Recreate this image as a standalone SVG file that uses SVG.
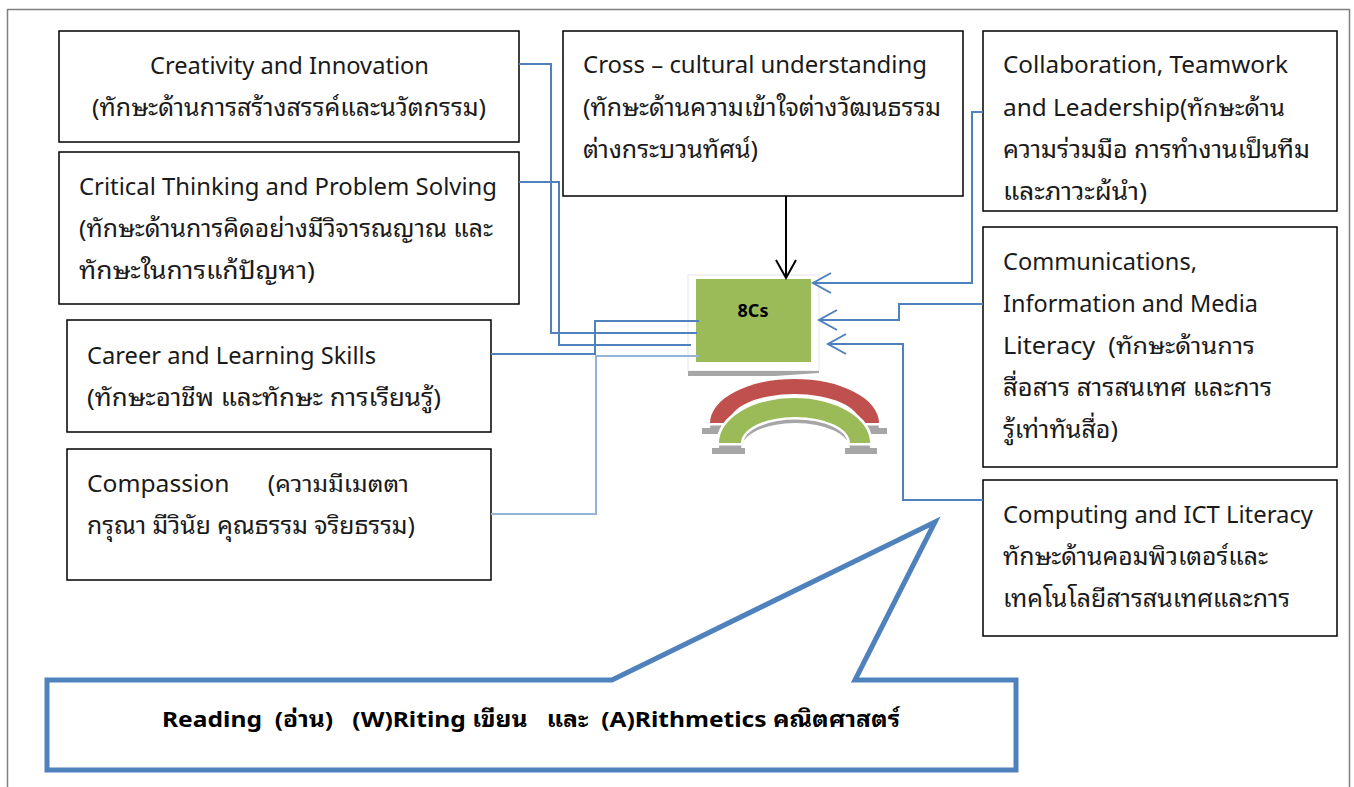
<svg xmlns="http://www.w3.org/2000/svg" width="1354" height="787" viewBox="0 0 1354 787">
<defs>
<style>
.box{fill:#fff;stroke:#000;stroke-width:1.5}
.t{font-family:"Noto Sans","Noto Sans Thai Looped","Noto Sans Thai","Leelawadee UI",sans-serif;font-size:23px;fill:#1a1a1a}
.th{font-size:24px}
.b{stroke:#4F81BD;stroke-width:2;fill:none}
.lb{stroke:#95B3D7;stroke-width:2;fill:none}
.bold{font-family:"Noto Sans","Noto Sans Thai Looped","Noto Sans Thai",sans-serif;font-weight:bold;fill:#000}
</style>
</defs>
<rect x="7.5" y="9.5" width="1342" height="820" fill="#fff" stroke="#7f7f7f" stroke-width="1.5"/>

<g id="creativity">
<rect class="box" x="59" y="31" width="460" height="111"/>
<text class="t" x="150" y="74" textLength="279" lengthAdjust="spacingAndGlyphs">Creativity and Innovation</text>
<text class="t th" x="92" y="116" textLength="394" lengthAdjust="spacingAndGlyphs">(ทักษะด้านการสร้างสรรค์และนวัตกรรม)</text>
</g>
<g id="critical">
<rect class="box" x="59" y="152" width="460" height="152"/>
<text class="t" x="79" y="195" textLength="418" lengthAdjust="spacingAndGlyphs">Critical Thinking and Problem Solving</text>
<text class="t th" x="79" y="237" textLength="414" lengthAdjust="spacingAndGlyphs">(ทักษะด้านการคิดอย่างมีวิจารณญาณ และ</text>
<text class="t th" x="79" y="279" textLength="236" lengthAdjust="spacingAndGlyphs">ทักษะในการแก้ปัญหา)</text>
</g>
<g id="cross">
<rect class="box" x="563" y="31" width="400" height="165"/>
<text class="t" x="583" y="73" textLength="344" lengthAdjust="spacingAndGlyphs">Cross – cultural understanding</text>
<text class="t th" x="583" y="116" textLength="358" lengthAdjust="spacingAndGlyphs">(ทักษะด้านความเข้าใจต่างวัฒนธรรม</text>
<text class="t th" x="583" y="158" textLength="175" lengthAdjust="spacingAndGlyphs">ต่างกระบวนทัศน์)</text>
</g>
<g id="collaboration">
<rect class="box" x="983" y="31" width="354" height="180"/>
<text class="t" x="1003" y="73" textLength="285" lengthAdjust="spacingAndGlyphs">Collaboration, Teamwork</text>
<text class="t" x="1003" y="116" textLength="282" lengthAdjust="spacingAndGlyphs">and Leadership(ทักษะด้าน</text>
<text class="t th" x="1003" y="158" textLength="307" lengthAdjust="spacingAndGlyphs">ความร่วมมือ การทำงานเป็นทีม</text>
<text class="t th" x="1003" y="200" textLength="144" lengthAdjust="spacingAndGlyphs">และภาวะผ้นำ)</text>
</g>
<g id="communications">
<rect class="box" x="983" y="227" width="354" height="240"/>
<text class="t" x="1003" y="270" textLength="194" lengthAdjust="spacingAndGlyphs">Communications,</text>
<text class="t" x="1003" y="312" textLength="255" lengthAdjust="spacingAndGlyphs">Information and Media</text>
<text class="t" x="1003" y="354" textLength="252" lengthAdjust="spacingAndGlyphs" xml:space="preserve">Literacy  (ทักษะด้านการ</text>
<text class="t th" x="1003" y="396" textLength="269" lengthAdjust="spacingAndGlyphs">สื่อสาร สารสนเทศ และการ</text>
<text class="t th" x="1003" y="438" textLength="115" lengthAdjust="spacingAndGlyphs">รู้เท่าทันสื่อ)</text>
</g>
<g id="career">
<rect class="box" x="67" y="320" width="424" height="112"/>
<text class="t" x="87" y="364" textLength="289" lengthAdjust="spacingAndGlyphs">Career and Learning Skills</text>
<text class="t th" x="87" y="406" textLength="354" lengthAdjust="spacingAndGlyphs">(ทักษะอาชีพ และทักษะ การเรียนรู้)</text>
</g>
<g id="compassion">
<rect class="box" x="67" y="449" width="424" height="131"/>
<text class="t" x="87" y="492" textLength="322" lengthAdjust="spacingAndGlyphs" xml:space="preserve">Compassion      (ความมีเมตตา</text>
<text class="t th" x="87" y="534" textLength="328" lengthAdjust="spacingAndGlyphs">กรุณา มีวินัย คุณธรรม จริยธรรม)</text>
</g>
<g id="computing">
<rect class="box" x="983" y="480" width="354" height="156"/>
<text class="t" x="1003" y="523" textLength="310" lengthAdjust="spacingAndGlyphs">Computing and ICT Literacy</text>
<text class="t th" x="1003" y="565" textLength="265" lengthAdjust="spacingAndGlyphs">ทักษะด้านคอมพิวเตอร์และ</text>
<text class="t th" x="1003" y="607" textLength="287" lengthAdjust="spacingAndGlyphs">เทคโนโลยีสารสนเทศและการ</text>
</g>

<g id="core">
<rect x="688" y="275" width="131" height="96" fill="#fff" stroke="#e6e6e6" stroke-width="1"/>
<polygon points="688,371 819,371 819,373 775,376 688,376" fill="#a6a6a6"/>
<rect x="696" y="279" width="115" height="83" fill="#9BBB59"/>
<text class="bold" x="753" y="317" font-size="18" text-anchor="middle">8Cs</text>
</g>

<g id="arcs">
<path d="M702,428 H722 V434 H702 Z M867,428 H887 V434 H867 Z" fill="#a6a6a6" stroke="#fff" stroke-width="2" paint-order="stroke"/>
<path d="M710,429 A84.5,44 0 0 1 879,429 H860 A65.5,29 0 0 0 729,429 Z" fill="#a6a6a6"/>
<path d="M710,423 A84.5,44 0 0 1 879,423 H860 A65.5,29 0 0 0 729,423 Z" fill="#C0504D" stroke="#fff" stroke-width="5" paint-order="stroke"/>
<path d="M712,448 H745 V454 H712 Z M845,448 H877 V454 H845 Z" fill="#a6a6a6" stroke="#fff" stroke-width="2" paint-order="stroke"/>
<path d="M719,449 A75.5,45 0 0 1 870,449 H850 A54.5,26 0 0 0 741,449 Z" fill="#a6a6a6"/>
<path d="M719,443 A75.5,45 0 0 1 870,443 H850 A54.5,26 0 0 0 741,443 Z" fill="#9BBB59" stroke="#fff" stroke-width="5" paint-order="stroke"/>
</g>

<g id="connectors">
<polyline class="b" points="519,64 551,64 551,333 697,333"/>
<polyline class="b" points="519,182 559,182 559,345 691,345"/>
<polyline class="b" points="491,354 595,354 595,321 699,321"/>
<polyline class="lb" points="491,514 596,514 596,356 699,356"/>
<line x1="786" y1="196" x2="786" y2="277" stroke="#000" stroke-width="2"/>
<polyline points="776,260 786,278 796,260" fill="none" stroke="#000" stroke-width="2"/>
<polyline class="b" points="983,112 972,112 972,283 814,283"/>
<polyline class="b" points="831,273 813,283 831,293"/>
<polyline class="b" points="983,304 899,304 899,320 820,320"/>
<polyline class="b" points="837,310 819,320 837,330"/>
<polyline class="b" points="983,500 903,500 903,344 829,344"/>
<polyline class="b" points="846,334 828,344 846,354"/>
</g>

<g id="callout">
<path d="M47,680 H612 L935,522 L855,680 H1016 V770 H47 Z" fill="#fff" stroke="#4F81BD" stroke-width="5" stroke-linejoin="miter"/>
<text class="bold" x="162" y="727" font-size="22" textLength="738" lengthAdjust="spacingAndGlyphs" xml:space="preserve">Reading  (อ่าน)   (W)Riting เขียน   และ  (A)Rithmetics คณิตศาสตร์</text>
</g>
</svg>
